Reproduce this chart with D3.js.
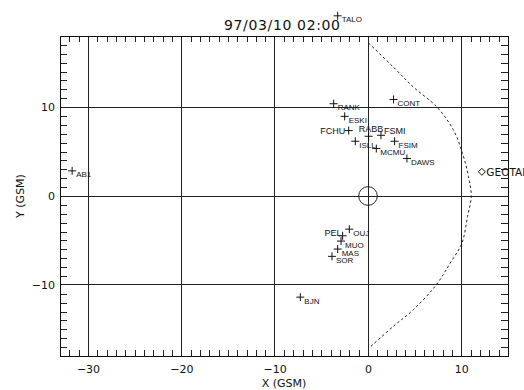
<!DOCTYPE html>
<html>
<head>
<meta charset="utf-8">
<script src="https://cdn.jsdelivr.net/npm/d3@7"></script>
<style>
  body { margin: 0; background: #fff; }
  svg { display: block; }
  text { font-family: "DejaVu Sans", sans-serif; fill: #111; }
  .stn { font-family: "Liberation Sans", sans-serif; font-size: 8.5px; }
</style>
</head>
<body>
<svg id="chart" width="524" height="390"></svg>
<script>
var title = "97/03/10 02:00";

// ground stations (GSM, Re)
var stationNames = ["TALO", "RANK", "CONT", "ESKI", "FCHU", "RABB", "FSMI", "ISLL", "MCMU",
                    "FSIM", "DAWS", "AB1", "PEL", "OUJ", "MUO", "MAS", "SOR", "BJN"];
var stationX = [-3.25, -3.68, 2.74, -2.5, -2.07, 0.07, 1.39, -1.36, 0.89,
                2.85, 4.17, -31.7, -2.72, -2.0, -2.89, -3.25, -3.86, -7.25];
var stationY = [20.27, 10.38, 10.86, 8.96, 7.36, 6.72, 6.83, 6.16, 5.34,
                6.16, 4.22, 2.83, -4.48, -3.73, -5.07, -5.97, -6.79, -11.38];

// spacecraft
var craftName = "GEOTAIL";
var craftX = 12.2;
var craftY = 2.72;

// magnetopause trace
var mpX = [0.07, 2.74, 4.88, 7.39, 9.17, 10.13, 10.77, 11.06, 10.66, 10.06, 8.81, 7.31, 4.88, 2.74, 0.17];
var mpY = [17.2, 14.48, 12.24, 10.0, 7.39, 4.78, 2.16, 0, -2.32, -5.3, -7.54, -10, -12.77, -14.64, -17.05];

var xTicks = [-30, -20, -10, 0, 10];
var yTicks = [-10, 0, 10];

var svg = d3.select("#chart");
var pLeft = 60, pRight = 508, pTop = 36, pBottom = 356;

var x = d3.scaleLinear().domain([-33, 15]).range([pLeft, pRight]);
var y = d3.scaleLinear().domain([-18, 18]).range([pBottom, pTop]);

// grid at major ticks
var grid = svg.append("g").attr("stroke", "#222").attr("stroke-width", 1).attr("shape-rendering", "crispEdges");
grid.selectAll(".vx").data(xTicks).enter().append("line")
    .attr("x1", function(d) { return x(d); }).attr("x2", function(d) { return x(d); })
    .attr("y1", pTop).attr("y2", pBottom);
grid.selectAll(".hy").data(yTicks).enter().append("line")
    .attr("y1", function(d) { return y(d); }).attr("y2", function(d) { return y(d); })
    .attr("x1", pLeft).attr("x2", pRight);

// minor ticks, pointing inwards
var minorX = d3.range(-32, 15).filter(function(d) { return d % 10 != 0; });
var minorY = d3.range(-17, 18).filter(function(d) { return d % 10 != 0; });

svg.append("g").attr("transform", "translate(0," + pBottom + ")")
    .call(d3.axisBottom(x).tickValues(minorX).tickSize(-6).tickFormat(""));
svg.append("g").attr("transform", "translate(0," + pTop + ")")
    .call(d3.axisTop(x).tickValues(minorX).tickSize(-6).tickFormat(""));
svg.append("g").attr("transform", "translate(" + pLeft + ",0)")
    .call(d3.axisLeft(y).tickValues(minorY).tickSize(-7).tickFormat(""));
svg.append("g").attr("transform", "translate(" + pRight + ",0)")
    .call(d3.axisRight(y).tickValues(minorY).tickSize(-7).tickFormat(""));
svg.selectAll(".domain").remove();
svg.selectAll(".tick line").attr("stroke", "#222").attr("shape-rendering", "crispEdges");

// major labels
var xLab = svg.append("g").attr("transform", "translate(0," + pBottom + ")")
    .call(d3.axisBottom(x).tickValues(xTicks).tickSize(0).tickPadding(9).tickFormat(d3.format("d")));
var yLab = svg.append("g").attr("transform", "translate(" + pLeft + ",0)")
    .call(d3.axisLeft(y).tickValues(yTicks).tickSize(0).tickPadding(5).tickFormat(d3.format("d")));
svg.selectAll(".domain").remove();
xLab.selectAll("text").attr("font-size", 11).attr("font-family", "DejaVu Sans").attr("fill", "#111");
yLab.selectAll("text").attr("font-size", 11).attr("font-family", "DejaVu Sans").attr("fill", "#111");

// frame
svg.append("rect").attr("x", pLeft).attr("y", pTop).attr("width", pRight - pLeft).attr("height", pBottom - pTop)
    .attr("fill", "none").attr("stroke", "#111").attr("shape-rendering", "crispEdges");

// axis titles
svg.append("text").attr("x", (pLeft + pRight) / 2).attr("y", 387).attr("text-anchor", "middle")
    .attr("font-size", 11).text("X (GSM)");
svg.append("text").attr("transform", "translate(24," + y(0) + ") rotate(-90)").attr("text-anchor", "middle")
    .attr("font-size", 11).text("Y (GSM)");
svg.append("text").attr("x", 224).attr("y", 30).attr("font-size", 14)
    .attr("textLength", 116).attr("lengthAdjust", "spacing").text(title);

// magnetopause
var mp = mpX.map(function(d, i) { return [d, mpY[i]]; });
svg.append("path").datum(mp)
    .attr("d", d3.line().x(function(d) { return x(d[0]); }).y(function(d) { return y(d[1]); }).curve(d3.curveCatmullRom))
    .attr("fill", "none").attr("stroke", "#222").attr("stroke-width", 1).attr("stroke-dasharray", "2.5,2.5");

// earth
svg.append("circle").attr("cx", x(0)).attr("cy", y(0)).attr("r", x(1) - x(0))
    .attr("fill", "none").attr("stroke", "#222");

// station labels offsets (px)
var labelPos = {
    FCHU: { dx: -3.5, dy: 3, anchor: "end", size: 9 },
    RABB: { dx: -10, dy: -4, anchor: "start", size: 9 },
    FSMI: { dx: 3, dy: -1, anchor: "start", size: 9 },
    PEL: { dx: -1, dy: 0, anchor: "end", size: 9 }
};

var stations = stationNames.map(function(n, i) { return { name: n, x: stationX[i], y: stationY[i] }; });
var st = svg.append("g").selectAll("g").data(stations).enter().append("g")
    .attr("transform", function(d) { return "translate(" + x(d.x) + "," + y(d.y) + ")"; });
st.append("path").attr("d", "M-4,0H4M0,-4V4").attr("stroke", "#111").attr("stroke-width", 1);
st.append("text").attr("class", "stn")
    .attr("x", function(d) { return labelPos[d.name] ? labelPos[d.name].dx : 4; })
    .attr("y", function(d) { return labelPos[d.name] ? labelPos[d.name].dy : 6.5; })
    .attr("text-anchor", function(d) { return labelPos[d.name] ? labelPos[d.name].anchor : "start"; })
    .style("font-size", function(d) { return (labelPos[d.name] ? labelPos[d.name].size : 8) + "px"; })
    .text(function(d) { return d.name; });

// spacecraft
var sc = svg.append("g").attr("transform", "translate(" + x(craftX) + "," + y(craftY) + ")");
sc.append("path").attr("d", "M-3.5,0L0,-3.5L3.5,0L0,3.5Z").attr("fill", "none").attr("stroke", "#111");
sc.append("text").attr("x", 4.5).attr("y", 4.5).attr("font-family", "Liberation Sans").attr("font-size", 10.5)
    .text(craftName);
</script>
</body>
</html>
